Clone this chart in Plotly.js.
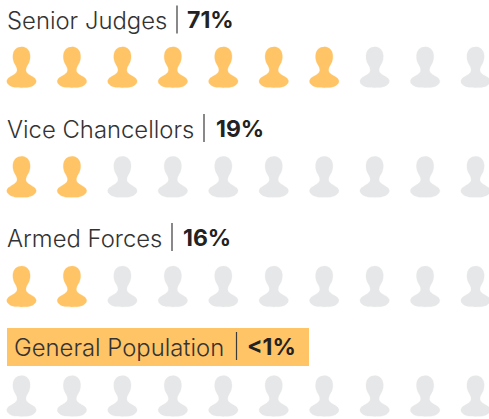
<!DOCTYPE html>
<html>
<head>
<meta charset="utf-8">
<script src="https://cdn.plot.ly/plotly-3.0.1.min.js"></script>
<style>html,body{margin:0;padding:0;background:#fff;overflow:hidden}#c{width:489px;height:419px}</style>
</head>
<body>
<div id="c"></div>
<script>
const categories = ["Senior Judges", "Vice Chancellors", "Armed Forces", "General Population"];
const shares = ["71%", "19%", "16%", "<1%"];
const filledIcons = [7, 2, 2, 0];
const iconsPerRow = 10;

const GOLD = "#ffc466", GREY = "#e6e7e8", INK = "#333333", BOLD = "#222222";
const W = 489, H = 419;
const colPx = 50.45, rowPx = 109.6, firstCol = 21.5, firstRow = 46.7;
const halfIcon = [[0,0],[3,.5],[5.6,2],[7.7,4.8],[8.6,8.5],[8.5,12],[7.6,15.5],[6,18.5],[4.8,21],[4.4,23.5],[5,25.5],[7,27.5],[10.5,29.6],[13.3,31.5],[14.7,34],[14.2,36.5],[11.5,39],[7,40.6],[0,41]];
const outline = halfIcon.concat(halfIcon.slice(1,-1).reverse().map(p => [-p[0], p[1]]));

function icons(test) {
  const x = [], y = [];
  filledIcons.forEach((n, r) => {
    for (let c = 0; c < iconsPerRow; c++) {
      if (!test(c, n)) continue;
      outline.forEach(p => { x.push(c + p[0] / colPx); y.push(r + p[1] / rowPx); });
      x.push(null); y.push(null);
    }
  });
  return {x, y};
}
const mk = (d, color) => ({type:"scatter", mode:"lines", x:d.x, y:d.y, fill:"toself", fillcolor:color,
  line:{color:color, width:0.25, shape:"spline", smoothing:0.6}, hoverinfo:"skip", showlegend:false});

const labelY = [21, 129.5, 238.5, 347.5];
const labelX = [5, 5, 5, 11.5];
const barX = [177, 204, 172, 236.5];
const shareX = [185, 213.5, 180.5, 245];
const annotations = [], shapes = [{type:"rect", xref:"paper", yref:"paper", x0:7/W, x1:309/W, y0:1-328/H, y1:1-366/H, fillcolor:GOLD, line:{width:0}, layer:"below"}];
categories.forEach((cat, r) => {
  annotations.push({xref:"paper", yref:"paper", x:labelX[r]/W, y:1-(labelY[r]-0.5)/H, xanchor:"left", yanchor:"middle", showarrow:false,
    text:cat, font:{family:"Inter, sans-serif", size:23.85, color:INK, weight:300}});
  annotations.push({xref:"paper", yref:"paper", x:shareX[r]/W, y:1-(labelY[r]-0.5)/H, xanchor:"left", yanchor:"middle", showarrow:false,
    text:shares[r].replace("<","&lt;"), font:{family:"Inter, sans-serif", size:23, color:BOLD, weight:700}});
  shapes.push({type:"line", xref:"paper", yref:"paper", x0:barX[r]/W, x1:barX[r]/W, y0:1-(labelY[r]-15.5)/H, y1:1-(labelY[r]+12.5)/H, line:{color:"#3a3a3a", width:1.2}});
});
const layout = {
  width:W, height:H, margin:{l:0,r:0,t:0,b:0}, paper_bgcolor:"#fff", plot_bgcolor:"#fff", showlegend:false,
  xaxis:{range:[-firstCol/colPx,(W-firstCol)/colPx], visible:false, fixedrange:true},
  yaxis:{range:[(H-firstRow)/rowPx,-firstRow/rowPx], visible:false, fixedrange:true},
  shapes, annotations
};
Plotly.newPlot("c", [mk(icons((c,n)=>c<n),GOLD), mk(icons((c,n)=>c>=n),GREY)], layout, {displayModeBar:false, staticPlot:true});
</script>
</body>
</html>
